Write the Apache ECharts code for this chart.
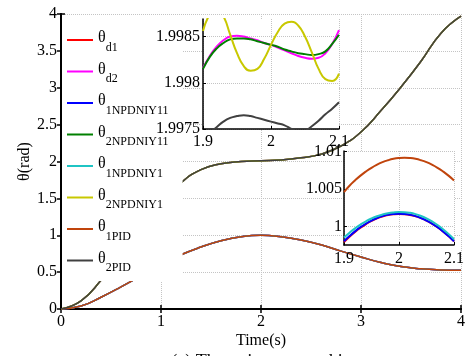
<!DOCTYPE html>
<html>
<head>
<meta charset="utf-8">
<script src="https://cdn.jsdelivr.net/npm/echarts@6/dist/echarts.min.js"></script>
<style>
  html, body { margin: 0; padding: 0; background: #fff; }
  #chart { width: 468px; height: 356px; }
</style>
</head>
<body>
<div id="chart"></div>
<script>
// time axis of the main plot (s)
const timeMain = [0, 0.2, 0.4, 0.6, 0.8, 1.0, 1.2, 1.4, 1.6, 1.8, 2.0, 2.2, 2.4, 2.6, 2.8, 3.0, 3.2, 3.4, 3.6, 3.8, 4.0]
// joint 1 and joint 2 angles (all controllers overlap at this scale)
const q1Main = [0, 0.04, 0.16, 0.30, 0.45, 0.60, 0.735, 0.84, 0.925, 0.98, 1.0, 0.98, 0.935, 0.87, 0.785, 0.705, 0.63, 0.575, 0.545, 0.53, 0.525]
const q2Main = [0, 0.11, 0.39, 0.73, 1.07, 1.42, 1.71, 1.89, 1.97, 2.0, 2.01, 2.02, 2.05, 2.10, 2.21, 2.40, 2.69, 3.01, 3.36, 3.74, 3.97]

// zoomed window 1.9 .. 2.1 s
const timeZoom = [1.90, 1.91, 1.92, 1.93, 1.94, 1.95, 1.96, 1.97, 1.98, 1.99, 2.00, 2.01, 2.02, 2.03, 2.04, 2.05, 2.06, 2.07, 2.08, 2.09, 2.10]
// inset 1 (joint 2)
const zoomD2 = [1.99816, 1.99829, 1.99839, 1.99846, 1.99850, 1.99851, 1.99850, 1.99848, 1.99846, 1.99843, 1.99841, 1.99838, 1.99835, 1.99832, 1.99829, 1.99827, 1.99826, 1.99827, 1.99832, 1.99842, 1.99857]
const zoom2N11 = [1.99815, 1.99828, 1.99837, 1.99843, 1.99847, 1.99848, 1.99848, 1.99847, 1.99845, 1.99843, 1.99841, 1.99839, 1.99836, 1.99834, 1.99832, 1.99831, 1.99830, 1.99831, 1.99834, 1.99842, 1.99852]
const zoom2N1 = [1.99856, 1.99874, 1.99880, 1.99872, 1.99852, 1.99832, 1.99818, 1.99813, 1.99815, 1.99826, 1.99841, 1.99855, 1.99864, 1.99866, 1.99862, 1.99850, 1.99833, 1.99815, 1.99804, 1.99802, 1.99810]
const zoom2PID = [1.99740, 1.99746, 1.99752, 1.99758, 1.99762, 1.99764, 1.99765, 1.99764, 1.99762, 1.99760, 1.99758, 1.99756, 1.99754, 1.99750, 1.99747, 1.99748, 1.99753, 1.99759, 1.99766, 1.99772, 1.99779]
// inset 2 (joint 1)
const zoomD1 = [0.99788, 0.99860, 0.99924, 0.99981, 1.00030, 1.00072, 1.00106, 1.00132, 1.00151, 1.00162, 1.00166, 1.00163, 1.00153, 1.00135, 1.00110, 1.00077, 1.00036, 0.99988, 0.99932, 0.99869, 0.99798]
const zoom1N11 = [0.99800, 0.99870, 0.99933, 0.99989, 1.00037, 1.00078, 1.00111, 1.00137, 1.00155, 1.00166, 1.00170, 1.00166, 1.00155, 1.00137, 1.00111, 1.00078, 1.00037, 0.99989, 0.99933, 0.99870, 0.99800]
const zoom1N1 = [0.99850, 0.99915, 0.99973, 1.00024, 1.00068, 1.00105, 1.00135, 1.00158, 1.00175, 1.00186, 1.00192, 1.00190, 1.00181, 1.00164, 1.00139, 1.00107, 1.00066, 1.00018, 0.99962, 0.99899, 0.99828]
const zoom1PID = [1.00460, 1.00545, 1.00616, 1.00680, 1.00736, 1.00785, 1.00826, 1.00860, 1.00886, 1.00905, 1.00916, 1.00920, 1.00916, 1.00905, 1.00886, 1.00860, 1.00826, 1.00785, 1.00736, 1.00680, 1.00616]

// tick labels
const inset1YTicks = [1.9975, 1.998, 1.9985]
const inset2YTicks = [1, 1.005, 1.01]
const insetXTicks = [1.9, 2, 2.1]

// legend: θ + subscript
const seriesSub = ['d1', 'd2', '1NPDNIY11', '2NPDNIY11', '1NPDNIY1', '2NPDNIY1', '1PID', '2PID']
const seriesNames = seriesSub.map(s => 'θ' + s)
const colors = ['#ff0000', '#ff00ff', '#0000ff', '#008000', '#1fc4c4', '#c8c800', '#c0440c', '#404040']

const FONT = "'Liberation Serif', 'Times New Roman', serif"

const pairs = (xs, ys) => xs.map((x, i) => [x, ys[i]])

const mainSeries = seriesNames.map((name, i) => ({
  name,
  type: 'line',
  xAxisIndex: 0,
  yAxisIndex: 0,
  data: pairs(timeMain, i % 2 === 0 ? q1Main : q2Main),
  smooth: true,
  symbol: 'none',
  lineStyle: { width: 1.5, color: colors[i] },
  itemStyle: { color: colors[i] },
  z: 2
}))

const zoomSeries = (idx, vals, axis) => ({
  name: seriesNames[idx],
  type: 'line',
  xAxisIndex: axis,
  yAxisIndex: axis,
  data: pairs(timeZoom, vals),
  smooth: true,
  symbol: 'none',
  clip: true,
  lineStyle: { width: 2, color: colors[idx] },
  itemStyle: { color: colors[idx] },
  z: 8
})

const gridLine = { show: true, lineStyle: { color: '#c4c4c4', type: 'dotted', width: 1 } }
const labelStyle = { fontFamily: FONT, fontSize: 16, color: '#000' }

const insetAxisX = (grid, margin) => ({
  type: 'value', gridIndex: grid, min: 1.9, max: 2.1, z: 7,
  axisLine: { lineStyle: { color: '#000', width: 1.5 } },
  axisTick: { inside: true, length: 3, customValues: insetXTicks, lineStyle: { color: '#000' } },
  axisLabel: Object.assign({ margin, customValues: insetXTicks, formatter: v => String(+v.toFixed(3)) }, labelStyle),
  splitLine: gridLine
})
const insetAxisY = (grid, min, max, ticks, margin) => ({
  type: 'value', gridIndex: grid, min, max, z: 7,
  axisLine: { lineStyle: { color: '#000', width: 1.5 } },
  axisTick: { inside: true, length: 3, customValues: ticks, lineStyle: { color: '#000' } },
  axisLabel: Object.assign({ margin, customValues: ticks, formatter: v => String(+v.toFixed(4)) }, labelStyle),
  splitLine: gridLine
})

const option = {
  animation: false,
  backgroundColor: '#fff',
  title: {
    text: '(a) The trajectory tracking',
    left: 261, top: 348, textAlign: 'center',
    textStyle: { fontFamily: FONT, fontSize: 18, fontWeight: 'normal', color: '#000' }
  },
  grid: [
    { left: 61, top: 14, width: 400, height: 295 },
    { left: 203, top: 19, width: 136, height: 110, show: true, backgroundColor: '#fff', borderWidth: 0, z: 5 },
    { left: 344, top: 151, width: 110, height: 94, show: true, backgroundColor: '#fff', borderWidth: 0, z: 5 }
  ],
  legend: {
    data: seriesNames,
    orient: 'vertical',
    left: 62, top: 15,
    padding: [15, 14, 7, 5],
    itemGap: 8,
    itemWidth: 26,
    itemHeight: 2,
    icon: 'rect',
    backgroundColor: '#fff',
    z: 4,
    formatter: name => '{t|θ}{s|' + name.slice(1) + '}',
    textStyle: {
      fontFamily: FONT, color: '#000',
      rich: {
        t: { fontFamily: FONT, fontSize: 16, color: '#000', padding: [0, 0, 4, 0] },
        s: { fontFamily: FONT, fontSize: 12, color: '#000', padding: [15, 0, 0, 0] }
      }
    }
  },
  xAxis: [
    {
      type: 'value', gridIndex: 0, min: 0, max: 4, interval: 1,
      name: 'Time(s)', nameLocation: 'middle', nameGap: 24, nameMoveOverlap: false,
      nameTextStyle: { fontFamily: FONT, fontSize: 16, color: '#000' },
      axisLine: { lineStyle: { color: '#000', width: 2 } },
      axisTick: { inside: true, length: 4, lineStyle: { color: '#000', width: 1.5 } },
      axisLabel: Object.assign({ margin: 5 }, labelStyle),
      splitLine: gridLine
    },
    {
      type: 'value', gridIndex: 0, min: 0, max: 4, interval: 1, position: 'top',
      axisLine: { lineStyle: { color: '#000', width: 2 } },
      axisTick: { inside: true, length: 4, lineStyle: { color: '#000', width: 1.5 } },
      axisLabel: { show: false },
      splitLine: { show: false }
    },
    insetAxisX(1, 5),
    insetAxisX(2, 6)
  ],
  yAxis: [
    {
      type: 'value', gridIndex: 0, min: 0, max: 4, interval: 0.5,
      name: 'θ(rad)', nameLocation: 'middle', nameGap: 28, nameMoveOverlap: false,
      nameTextStyle: { fontFamily: FONT, fontSize: 16, color: '#000' },
      axisLine: { lineStyle: { color: '#000', width: 2 } },
      axisTick: { inside: true, length: 4, lineStyle: { color: '#000', width: 1.5 } },
      axisLabel: Object.assign({ margin: 4 }, labelStyle),
      splitLine: gridLine
    },
    {
      type: 'value', gridIndex: 0, min: 0, max: 4, interval: 0.5, position: 'right',
      axisLine: { lineStyle: { color: '#000', width: 2 } },
      axisTick: { inside: true, length: 4, lineStyle: { color: '#000', width: 1.5 } },
      axisLabel: { show: false },
      splitLine: { show: false }
    },
    insetAxisY(1, 1.9975, 1.99869, inset1YTicks, 3),
    insetAxisY(2, 0.9975, 1.0101, inset2YTicks, 2)
  ],
  series: mainSeries.concat([
    zoomSeries(1, zoomD2, 2),
    zoomSeries(3, zoom2N11, 2),
    zoomSeries(5, zoom2N1, 2),
    zoomSeries(7, zoom2PID, 2),
    zoomSeries(0, zoomD1, 3),
    zoomSeries(2, zoom1N11, 3),
    zoomSeries(4, zoom1N1, 3),
    zoomSeries(6, zoom1PID, 3)
  ])
}

const myChart = echarts.init(document.getElementById('chart'))
myChart.setOption(option)
</script>
</body>
</html>
